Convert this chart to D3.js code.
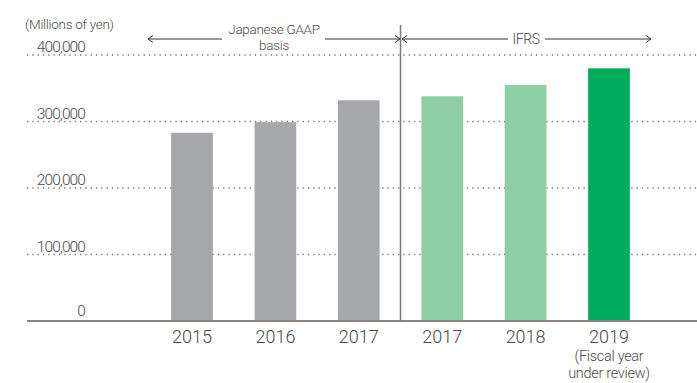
<!DOCTYPE html>
<html>
<head>
<meta charset="utf-8">
<script src="https://cdn.jsdelivr.net/npm/d3@7/dist/d3.min.js"></script>
<style>
  html, body { margin: 0; padding: 0; background: #fff; }
  svg { display: block; font-family: Roboto, "Liberation Sans", Arial, sans-serif; font-weight: 300; }
</style>
</head>
<body>
<svg id="chart" width="697" height="383"></svg>
<script>
// Net sales by fiscal year (millions of yen)
const categories = ["2015 JGAAP", "2016 JGAAP", "2017 JGAAP", "2017 IFRS", "2018 IFRS", "2019 IFRS"];
const yearLabels = ["2015", "2016", "2017", "2017", "2018", "2019"];
const values = [283000, 299000, 332000, 338000, 355000, 380000];
const barKinds = ["jgaap", "jgaap", "jgaap", "ifrs", "ifrs", "current"];
const yTicks = [0, 100000, 200000, 300000, 400000];
const unitLabel = "(Millions of yen)";
const gaapLabel = ["Japanese GAAP", "basis"];
const ifrsLabel = "IFRS";
const currentNote = ["(Fiscal year", "under review)"];

const colors = { jgaap: "#a7a8ab", ifrs: "#8fcfa5", current: "#00ab5b" };
const textColor = "#4a4a4a";

const svg = d3.select("#chart");

const x = d3.scaleBand()
  .domain(categories)
  .range([150.3, 650.7])
  .paddingInner(0.5)
  .paddingOuter(0.25);

const y = d3.scaleLinear()
  .domain([0, 400000])
  .range([321, 55]);

const fmt = d3.format(",");

// dotted gridlines
svg.append("g")
  .selectAll("line")
  .data(yTicks.filter(d => d > 0))
  .join("line")
  .attr("x1", 27).attr("x2", 697)
  .attr("y1", d => y(d)).attr("y2", d => y(d))
  .attr("stroke", "#777")
  .attr("stroke-width", 1.3)
  .attr("stroke-dasharray", "1.3,4");

// y tick labels
svg.append("g")
  .selectAll("text")
  .data(yTicks)
  .join("text")
  .attr("x", 85)
  .attr("y", d => y(d) - (d === 0 ? 5 : 3))
  .attr("text-anchor", "end")
  .attr("font-size", 15.5)
  .attr("fill", textColor)
  .attr("letter-spacing", -0.9)
  .text(d => fmt(d));

svg.append("text")
  .attr("x", 25).attr("y", 29)
  .attr("font-size", 13.5)
  .attr("letter-spacing", -0.3)
  .attr("fill", textColor)
  .text(unitLabel);

// bars
svg.append("g")
  .selectAll("rect")
  .data(categories)
  .join("rect")
  .attr("x", d => x(d))
  .attr("width", x.bandwidth())
  .attr("y", (d, i) => y(values[i]))
  .attr("height", (d, i) => y(0) - y(values[i]))
  .attr("fill", (d, i) => colors[barKinds[i]]);

// baseline
svg.append("line")
  .attr("x1", 27).attr("x2", 697)
  .attr("y1", y(0)).attr("y2", y(0))
  .attr("stroke", "#8a8580")
  .attr("stroke-width", 2);

// divider between accounting standards
const divX = x(categories[3]) - x.step() * x.paddingInner() / 2;
svg.append("line")
  .attr("x1", divX).attr("x2", divX)
  .attr("y1", 25).attr("y2", y(0))
  .attr("stroke", "#7a7a7a")
  .attr("stroke-width", 1.5);

// x labels
svg.append("g")
  .selectAll("text")
  .data(categories)
  .join("text")
  .attr("x", d => x(d) + x.bandwidth() / 2)
  .attr("y", 343)
  .attr("text-anchor", "middle")
  .attr("font-size", 18)
  .attr("fill", textColor)
  .text((d, i) => yearLabels[i]);

const lastX = x(categories[5]) + x.bandwidth() / 2;
svg.append("text")
  .attr("x", lastX).attr("y", 361)
  .attr("text-anchor", "middle")
  .attr("font-size", 14.5)
  .attr("letter-spacing", -0.3)
  .attr("fill", textColor)
  .selectAll("tspan")
  .data(currentNote)
  .join("tspan")
  .attr("x", lastX)
  .attr("dy", (d, i) => i === 0 ? 0 : 17)
  .text(d => d);

// period arrows
const arrowY = 39;
const arrowColor = "#333";
function arrow(x1, x2, dir) {
  svg.append("line")
    .attr("x1", x1).attr("x2", x2)
    .attr("y1", arrowY).attr("y2", arrowY)
    .attr("stroke", arrowColor).attr("stroke-width", 1);
  const tip = dir < 0 ? x1 : x2;
  const s = dir < 0 ? 1 : -1;
  svg.append("path")
    .attr("d", `M${tip + s * 5},${arrowY - 3.5}L${tip},${arrowY}L${tip + s * 5},${arrowY + 3.5}`)
    .attr("fill", "none")
    .attr("stroke", arrowColor).attr("stroke-width", 1);
}
arrow(148, 222, -1);
arrow(325, divX - 0.5, 1);
arrow(divX + 1.5, 508, -1);
arrow(545, 651, 1);

svg.append("text")
  .attr("x", 274).attr("y", 34)
  .attr("text-anchor", "middle")
  .attr("font-size", 13.5)
  .attr("letter-spacing", -0.3)
  .attr("fill", textColor)
  .selectAll("tspan")
  .data(gaapLabel)
  .join("tspan")
  .attr("x", 274)
  .attr("dy", (d, i) => i === 0 ? 0 : 16)
  .text(d => d);

svg.append("text")
  .attr("x", 526).attr("y", 44)
  .attr("text-anchor", "middle")
  .attr("font-size", 14)
  .attr("letter-spacing", -0.4)
  .attr("fill", textColor)
  .text(ifrsLabel);
</script>
</body>
</html>
